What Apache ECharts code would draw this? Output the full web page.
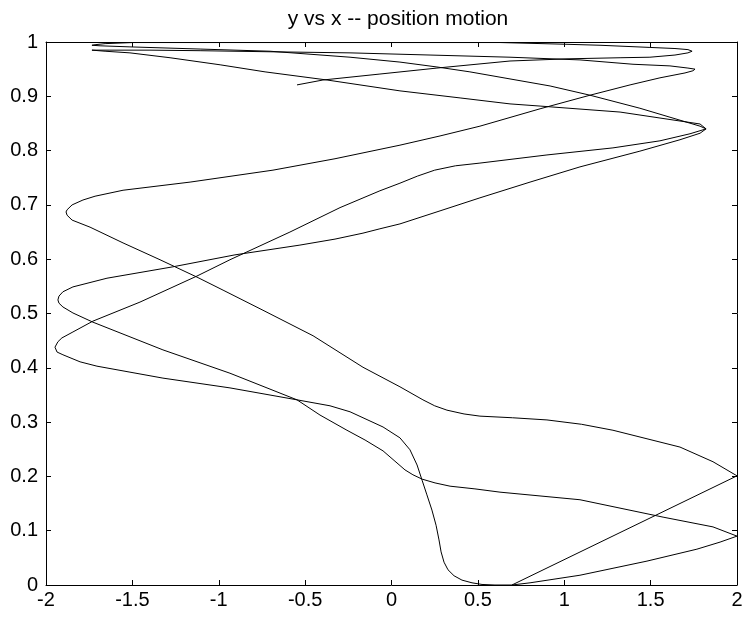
<!DOCTYPE html>
<html>
<head>
<meta charset="utf-8">
<script src="https://cdn.jsdelivr.net/npm/echarts@6/dist/echarts.min.js"></script>
<style>html,body{margin:0;padding:0;background:#fff;}#c{width:747px;height:619px;}</style>
</head>
<body>
<div id="c"></div>
<script>
// Tick values
const xTicks = [-2, -1.5, -1, -0.5, 0, 0.5, 1, 1.5, 2];
const yTicks = [0, 0.1, 0.2, 0.3, 0.4, 0.5, 0.6, 0.7, 0.8, 0.9, 1];

// Trajectory pieces (data units)
// E1 (loose end) -> right turn T1
const e1T1X = [-0.547,-0.397,-0.067,0.263,0.686,1.016,1.323,1.496,1.641,1.716,1.740];
const e1T1Y = [0.921,0.930,0.941,0.952,0.965,0.969,0.971,0.972,0.976,0.980,0.983];
// T1 -> along the top -> upper top-left turn
const t1TopX = [1.740,1.716,1.641,1.496,1.207,0.993,0.628,0.339,0.049,-0.530,-1.108,-1.496,-1.658,-1.716,-1.734];
const t1TopY = [0.983,0.986,0.988,0.990,0.994,0.996,0.999,0.999,0.999,0.999,0.999,0.999,0.997,0.995,0.994];
// upper top-left turn -> descending to right tip P1
const tlDescX = [-1.734,-1.687,-1.514,-1.108,-0.703,-0.240,0.049,0.263,0.454,0.686,0.918,1.149,1.438,1.670,1.786,1.821];
const tlDescY = [0.994,0.993,0.991,0.987,0.983,0.972,0.963,0.954,0.945,0.932,0.919,0.902,0.878,0.856,0.845,0.840];
// P1 -> long rising line -> left turn L1
const p1L1X = [1.821,1.728,1.554,1.282,0.900,0.512,0.370,0.250,0.150,0.049,-0.067,-0.298,-0.588,-0.935,-1.126,-1.456,-1.728,-1.844,-1.908,-1.931,-1.948];
const p1L1Y = [0.840,0.831,0.818,0.805,0.792,0.777,0.772,0.764,0.753,0.740,0.726,0.695,0.650,0.599,0.569,0.521,0.486,0.466,0.455,0.448,0.438];
// L1 -> down to the bottom -> B0
const l1BotX = [-1.948,-1.936,-1.902,-1.803,-1.705,-1.514,-1.323,-0.935,-0.547,-0.356,-0.240,-0.049,0.049,0.107,0.148,0.177,0.205,0.234,0.258,0.275,0.287,0.304,0.327,0.362,0.408,0.466,0.524,0.599,0.697];
const l1BotY = [0.438,0.429,0.424,0.411,0.403,0.392,0.381,0.363,0.341,0.330,0.319,0.291,0.271,0.249,0.221,0.193,0.166,0.138,0.110,0.083,0.061,0.042,0.028,0.017,0.009,0.004,0.001,0,0];
// B0 -> right edge R1
const b0R1X = [0.697, 2.0];
const b0R1Y = [0, 0.201];
// left turn L3 -> right edge R1
const l3R1X = [-1.884,-1.878,-1.849,-1.745,-1.554,-1.340,-1.126,-0.975,-0.744,-0.454,-0.165,0.049,0.182,0.250,0.321,0.420,0.512,0.700,0.900,1.100,1.282,1.670,1.861,2.0];
const l3R1Y = [0.687,0.681,0.672,0.659,0.630,0.599,0.567,0.543,0.506,0.459,0.401,0.365,0.341,0.330,0.322,0.315,0.311,0.308,0.304,0.296,0.285,0.254,0.227,0.201];
// right turn T2 -> left turn L3
const t2L3X = [1.757,1.745,1.699,1.554,1.381,1.149,0.860,0.512,0.281,0.049,-0.327,-0.686,-1.166,-1.554,-1.716,-1.786,-1.849,-1.878,-1.884];
const t2L3Y = [0.950,0.947,0.943,0.934,0.921,0.902,0.877,0.845,0.827,0.810,0.785,0.764,0.742,0.727,0.716,0.709,0.700,0.691,0.687];
// lower top-left turn -> T2
const tlT2X = [-1.734,-1.630,-1.398,-1.108,-0.703,-0.240,0.223,0.686,1.091,1.398,1.612,1.716,1.757];
const tlT2Y = [0.985,0.985,0.985,0.984,0.982,0.980,0.976,0.972,0.967,0.959,0.956,0.952,0.950];
// P1 -> lower top-left turn
const p1TlX = [1.821,1.786,1.554,1.323,0.860,0.686,0.397,0.049,-0.373,-0.732,-0.992,-1.282,-1.514,-1.658,-1.734];
const p1TlY = [0.840,0.849,0.860,0.871,0.882,0.886,0.897,0.910,0.930,0.945,0.958,0.971,0.980,0.983,0.985];
// left turn L2 -> P1
const l2P1X = [-1.931,-1.925,-1.902,-1.844,-1.647,-1.265,-0.906,-0.530,-0.327,-0.165,-0.067,0.049,0.281,0.512,0.802,1.091,1.438,1.670,1.786,1.821];
const l2P1Y = [0.525,0.532,0.540,0.549,0.565,0.586,0.608,0.626,0.637,0.648,0.656,0.665,0.689,0.713,0.742,0.770,0.799,0.820,0.832,0.840];
// right edge R2 -> L2
const r2L2X = [2.0,1.861,1.572,1.091,0.628,0.483,0.339,0.252,0.177,0.124,0.078,0.020,-0.049,-0.153,-0.258,-0.414,-0.547,-0.935,-1.323,-1.728,-1.844,-1.902,-1.925,-1.931];
const r2L2Y = [0.090,0.107,0.125,0.157,0.171,0.177,0.182,0.188,0.195,0.203,0.212,0.228,0.247,0.267,0.285,0.313,0.341,0.390,0.433,0.484,0.501,0.512,0.519,0.525];
// B0 -> R2
const b0R2X = [0.697,0.802,1.091,1.479,1.768,1.902,2.0];
const b0R2Y = [0,0.004,0.018,0.044,0.066,0.079,0.090];

// order of pieces along the path (reverse = traversed backwards)
const pathOrder = [
  [e1T1X, e1T1Y, false],
  [t1TopX, t1TopY, false],
  [tlDescX, tlDescY, false],
  [p1L1X, p1L1Y, false],
  [l1BotX, l1BotY, false],
  [b0R1X, b0R1Y, false],
  [l3R1X, l3R1Y, true],
  [t2L3X, t2L3Y, true],
  [tlT2X, tlT2Y, true],
  [p1TlX, p1TlY, true],
  [l2P1X, l2P1Y, true],
  [r2L2X, r2L2Y, true],
  [b0R2X, b0R2Y, true]
];

const pathData = [];
pathOrder.forEach(function (p, k) {
  let pts = p[0].map(function (x, i) { return [x, p[1][i]]; });
  if (p[2]) pts = pts.slice().reverse();
  if (k > 0) pts = pts.slice(1);
  pts.forEach(function (q) { pathData.push(q); });
});

const FONT = 'Liberation Sans';
const FS = 20;
const axisCommon = {
  type: 'value',
  axisLine: { show: true, onZero: false, lineStyle: { color: '#000', width: 1 } },
  axisTick: { show: true, inside: true, length: 5, lineStyle: { color: '#000', width: 1 } },
  splitLine: { show: false }
};

const chart = echarts.init(document.getElementById('c'), null, { renderer: 'canvas' });
chart.setOption({
  animation: false,
  backgroundColor: '#fff',
  title: {
    text: 'y vs x -- position motion',
    left: 393, top: 4, textAlign: 'center',
    textStyle: { fontFamily: FONT, fontSize: 21, fontWeight: 'normal', color: '#000' }
  },
  grid: { left: 46, right: 10, top: 42, bottom: 34, containLabel: false, outerBoundsMode: 'none' },
  xAxis: [
    Object.assign({}, axisCommon, {
      position: 'bottom', min: xTicks[0], max: xTicks[xTicks.length - 1], interval: 0.5,
      axisLabel: { show: true, margin: 5, color: '#000', fontFamily: FONT, fontSize: FS,
        formatter: function (v) { return String(Math.round(v * 10) / 10); } }
    }),
    Object.assign({}, axisCommon, {
      position: 'top', min: xTicks[0], max: xTicks[xTicks.length - 1], interval: 0.5,
      axisLabel: { show: false }
    })
  ],
  yAxis: [
    Object.assign({}, axisCommon, {
      position: 'left', min: yTicks[0], max: yTicks[yTicks.length - 1], interval: 0.1,
      axisLabel: { show: true, margin: 8, color: '#000', fontFamily: FONT, fontSize: FS,
        formatter: function (v) { return String(Math.round(v * 10) / 10); } }
    }),
    Object.assign({}, axisCommon, {
      position: 'right', min: yTicks[0], max: yTicks[yTicks.length - 1], interval: 0.1,
      axisLabel: { show: false }
    })
  ],
  series: [{
    type: 'line',
    xAxisIndex: 0, yAxisIndex: 0,
    data: pathData,
    showSymbol: false,
    symbol: 'none',
    clip: true,
    lineStyle: { color: '#000', width: 1 },
    silent: true
  }]
});
</script>
</body>
</html>
